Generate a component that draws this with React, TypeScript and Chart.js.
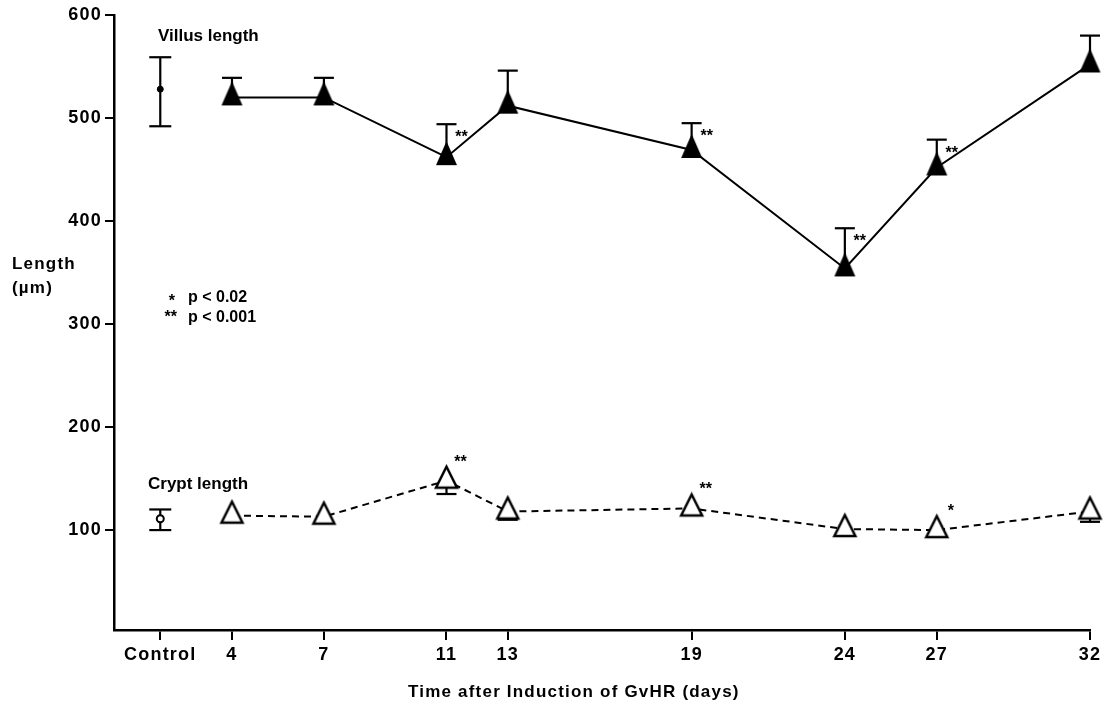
import React, { useEffect, useRef } from 'react';
import { Chart, registerables } from 'chart.js';

Chart.register(...registerables);

const FAMILY = '"Liberation Sans", Arial, Helvetica, sans-serif';

// Axis ticks: "Control" sits just before day 4
const tickDays = [1.66, 4, 7, 11, 13, 19, 24, 27, 32];
const tickLabels = ['Control', '4', '7', '11', '13', '19', '24', '27', '32'];
const lengthTicks = [100, 200, 300, 400, 500, 600];

const controlDay = 1.66;
// control groups: [lower limit, mean, upper limit]
const villusControl = [492, 528, 559];
const cryptControl = [100, 111, 120];

const days = [4, 7, 11, 13, 19, 24, 27, 32];
const villusLength = [520, 520, 462, 512, 469, 354, 452, 552];
const villusUpper = [539, 539, 494, 546, 495, 393, 479, 580];
const villusSignif = ['', '', '**', '', '**', '**', '**', ''];

const cryptLength = [114, 113, 148, 118, 121, 101, 100, 118];
const cryptLower: (number | null)[] = [null, null, 135, 110, null, null, null, 108];
const cryptSignif = ['', '', '**', '', '**', '', '*', ''];

function triangleMarker(w: number, h: number, filled: boolean): HTMLCanvasElement {
  // centroid of the triangle lands on the canvas centre, i.e. on the data point
  const c = document.createElement('canvas');
  const cy = (2 * h) / 3;
  const W = Math.ceil(w + 6);
  const H = Math.ceil(2 * cy + 6);
  c.width = W;
  c.height = H;
  const g = c.getContext('2d')!;
  const ox = W / 2;
  const top = H / 2 - cy;
  const bottom = top + h;
  g.beginPath();
  g.moveTo(ox, top);
  g.lineTo(ox + w / 2, bottom);
  g.lineTo(ox - w / 2, bottom);
  g.closePath();
  if (filled) {
    g.fillStyle = '#000';
    g.fill();
  } else {
    g.fillStyle = '#fff';
    g.fill();
    g.lineWidth = 2.5;
    g.strokeStyle = '#000';
    g.lineJoin = 'miter';
    g.stroke();
  }
  return c;
}

const figurePlugin = {
  id: 'figureExtras',
  beforeDraw(chart: any) {
    chart.ctx.letterSpacing = '1.2px';
  },
  beforeDatasetsDraw(chart: any) {
    const { ctx } = chart;
    const xs = chart.scales.x;
    const ys = chart.scales.y;
    ctx.save();
    ctx.strokeStyle = '#000';
    ctx.lineWidth = 2.2;
    const seg = (x1: number, y1: number, x2: number, y2: number) => {
      ctx.beginPath();
      ctx.moveTo(x1, y1);
      ctx.lineTo(x2, y2);
      ctx.stroke();
    };
    const bar = (day: number, from: number, to: number, half: number, bothCaps: boolean) => {
      const px = xs.getPixelForValue(day);
      const p1 = ys.getPixelForValue(from);
      const p2 = ys.getPixelForValue(to);
      seg(px, p1, px, p2);
      seg(px - half, p2, px + half, p2);
      if (bothCaps) seg(px - half, p1, px + half, p1);
    };
    days.forEach((d, i) => {
      bar(d, villusLength[i], villusUpper[i], 10, false);
      const lo = cryptLower[i];
      if (lo != null) bar(d, cryptLength[i], lo, 10, false);
    });
    bar(controlDay, villusControl[0], villusControl[2], 11, true);
    bar(controlDay, cryptControl[0], cryptControl[2], 11, true);
    ctx.restore();
  },
  afterDraw(chart: any) {
    const { ctx } = chart;
    const xs = chart.scales.x;
    const ys = chart.scales.y;
    ctx.save();
    ctx.fillStyle = '#000';
    ctx.textBaseline = 'alphabetic';

    // axis titles
    ctx.letterSpacing = '1.2px';
    ctx.font = `bold 17px ${FAMILY}`;
    ctx.textAlign = 'left';
    ctx.fillText('Length', 12, 269);
    ctx.fillText('(µm)', 12, 293);
    ctx.fillText('Time after Induction of GvHR (days)', 408, 697);

    // series names and significance key
    ctx.letterSpacing = '0px';
    ctx.font = `bold 17px ${FAMILY}`;
    ctx.fillText('Villus length', 158, 41);
    ctx.fillText('Crypt length', 148, 489);
    ctx.font = `bold 16px ${FAMILY}`;
    ctx.fillText('p < 0.02', 188, 302);
    ctx.fillText('p < 0.001', 188, 322);
    ctx.textAlign = 'right';
    ctx.fillText('*', 175, 306);
    ctx.fillText('**', 177, 322);

    // significance marks beside the points
    ctx.textAlign = 'center';
    days.forEach((d, i) => {
      const px = xs.getPixelForValue(d);
      if (villusSignif[i]) {
        ctx.fillText(villusSignif[i], px + 15, ys.getPixelForValue(villusUpper[i]) + 18);
      }
      if (cryptSignif[i]) {
        ctx.fillText(cryptSignif[i], px + 14, ys.getPixelForValue(cryptLength[i]) - 14);
      }
    });
    ctx.restore();
  },
};

export default function App() {
  const ref = useRef<HTMLCanvasElement>(null);

  useEffect(() => {
    document.body.style.margin = '0';
    const canvas = ref.current!;
    const villusMarker = triangleMarker(21, 24, true);
    const cryptMarker = triangleMarker(21, 21, false);
    const tickFont = { family: FAMILY, size: 18, weight: 'bold' as const };

    const chart = new Chart(canvas, {
      type: 'line',
      data: {
        datasets: [
          {
            label: 'Villus length',
            data: days.map((d, i) => ({ x: d, y: villusLength[i] })),
            borderColor: '#000',
            borderWidth: 2,
            backgroundColor: '#000',
            pointStyle: villusMarker as any,
            pointRadius: 12,
            tension: 0,
            fill: false,
            clip: false as any,
          },
          {
            label: 'Crypt length',
            data: days.map((d, i) => ({ x: d, y: cryptLength[i] })),
            borderColor: '#000',
            borderWidth: 2,
            borderDash: [7, 5],
            backgroundColor: '#fff',
            pointStyle: cryptMarker as any,
            pointRadius: 12,
            tension: 0,
            fill: false,
            clip: false as any,
          },
          {
            label: 'Villus control',
            data: [{ x: controlDay, y: villusControl[1] }],
            showLine: false,
            pointStyle: 'circle',
            pointRadius: 3,
            backgroundColor: '#000',
            borderColor: '#000',
          },
          {
            label: 'Crypt control',
            data: [{ x: controlDay, y: cryptControl[1] }],
            showLine: false,
            pointStyle: 'circle',
            pointRadius: 3.5,
            pointBorderWidth: 2,
            backgroundColor: '#fff',
            borderColor: '#000',
          },
        ],
      },
      options: {
        animation: false,
        responsive: true,
        maintainAspectRatio: false,
        layout: { padding: { top: 15, right: 16, bottom: 0, left: 0 } },
        plugins: { legend: { display: false }, tooltip: { enabled: false } },
        scales: {
          x: {
            type: 'linear',
            min: 0.15,
            max: 32,
            afterBuildTicks: (s: any) => {
              s.ticks = tickDays.map((v) => ({ value: v }));
            },
            afterFit: (s: any) => {
              s.height = 76;
            },
            ticks: {
              color: '#000',
              font: tickFont,
              padding: 4,
              maxRotation: 0,
              autoSkip: false,
              callback: (_v: any, i: number) => tickLabels[i],
            },
            grid: { drawOnChartArea: false, drawTicks: true, tickLength: 10, color: '#000', lineWidth: 2 },
            border: { display: true, color: '#000', width: 2.5 },
          },
          y: {
            type: 'linear',
            min: 3,
            max: 600,
            afterBuildTicks: (s: any) => {
              s.ticks = lengthTicks.map((v) => ({ value: v }));
            },
            afterFit: (s: any) => {
              s.width = 114;
            },
            ticks: { color: '#000', font: tickFont, padding: 3 },
            grid: { drawOnChartArea: false, drawTicks: true, tickLength: 9, color: '#000', lineWidth: 2 },
            border: { display: true, color: '#000', width: 2.5 },
          },
        },
      },
      plugins: [figurePlugin],
    });
    return () => chart.destroy();
  }, []);

  return (
    <div style={{ width: 1106, height: 706, position: 'relative', background: '#fff' }}>
      <canvas ref={ref} />
    </div>
  );
}
